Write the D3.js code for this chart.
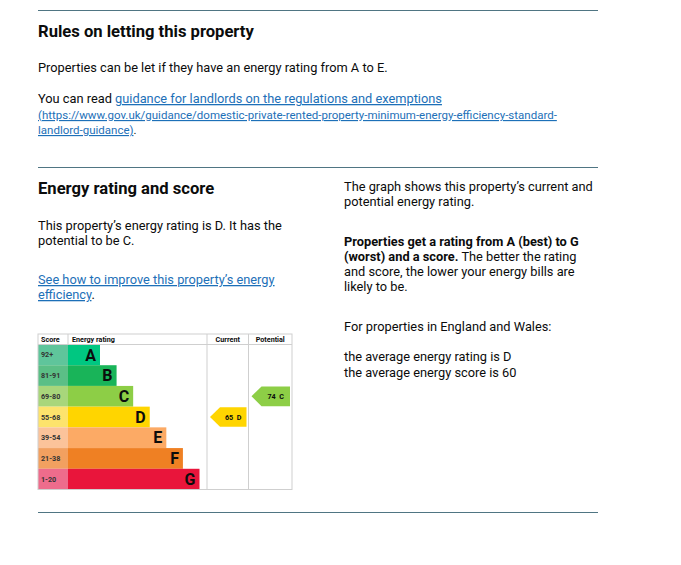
<!DOCTYPE html>
<html><head><meta charset="utf-8">
<script src="https://cdn.jsdelivr.net/npm/d3@7"></script>
<style>
html,body{margin:0;padding:0;background:#fff;}
svg text{font-family:Roboto,"Noto Sans",sans-serif;}
</style></head>
<body><svg id="c" width="681" height="565"></svg>
<script>
// ---- data ----
const bands = ["A","B","C","D","E","F","G"];
const scoreRanges = ["92+","81-91","69-80","55-68","39-54","21-38","1-20"];
const barLengths = [1,2,3,4,5,6,7];
const bandColors = ["#00c781","#19b459","#8dce46","#ffd500","#fcaa65","#ef8023","#e9153b"];
const cellColors = ["#5fc59b","#5bbf86","#a8d67b","#fde36c","#fbc39a","#f2a060","#ee6c8c"];
const columns = ["Current","Potential"];
const ratings = [{col:"Current",score:65,band:"D"},{col:"Potential",score:74,band:"C"}];

const svg = d3.select("#c");
const ink = "#0b0c0c", link = "#1d70b8", rule = "#4f7583";
const BODY = 12.8;

// ---- page rules ----
[10,167,512].forEach(yy=>svg.append("line").attr("x1",38).attr("x2",598).attr("y1",yy+0.5).attr("y2",yy+0.5).attr("stroke",rule).attr("stroke-width",1.2));

function txt(x,y,s,opt={}){
  const t=svg.append("text").attr("x",x).attr("y",y).attr("fill",opt.fill||ink)
    .attr("font-size",opt.size||BODY).attr("font-weight",opt.bold?"bold":"normal");
  if(opt.underline) t.attr("text-decoration","underline");
  t.text(s); return t;
}
function mixed(x,y,parts,size){
  const t=svg.append("text").attr("x",x).attr("y",y).attr("font-size",size||BODY);
  parts.forEach(p=>{const ts=t.append("tspan").text(p.t).attr("fill",p.link?link:ink);
    if(p.bold) ts.attr("font-weight","bold"); if(p.link) ts.attr("text-decoration","underline"); if(p.size) ts.attr("font-size",p.size);});
  return t;
}

txt(38,37,"Rules on letting this property",{bold:true,size:16.6});
txt(38,72,"Properties can be let if they have an energy rating from A to E.");
mixed(38,103,[{t:"You can read "},{t:"guidance for landlords on the regulations and exemptions",link:true}]);
txt(38,119,"(https://www.gov.uk/guidance/domestic-private-rented-property-minimum-energy-efficiency-standard-",{fill:link,size:11.5,underline:true});
mixed(38,134,[{t:"landlord-guidance)",link:true,size:11.5},{t:".",size:11.5}]);

txt(38,194,"Energy rating and score",{bold:true,size:16.6});
txt(38,230,"This property\u2019s energy rating is D. It has the");
txt(38,245,"potential to be C.");
mixed(38,284,[{t:"See how to improve this property\u2019s energy",link:true}]);
mixed(38,299,[{t:"efficiency",link:true},{t:"."}]);

txt(344,191,"The graph shows this property\u2019s current and");
txt(344,206,"potential energy rating.");
txt(344,246,"Properties get a rating from A (best) to G",{bold:true});
mixed(344,261,[{t:"(worst) and a score.",bold:true},{t:" The better the rating"}]);
txt(344,276,"and score, the lower your energy bills are");
txt(344,291,"likely to be.");
txt(344,331,"For properties in England and Wales:");
txt(344,361,"the average energy rating is D");
txt(344,377,"the average energy score is 60");

// ---- EPC chart ----
const cLeft=38, cRight=292, cTop=334, headH=10.5, cBottom=489.5;
const scoreW=30, barsEnd=207, curEnd=248.5;
const y = d3.scaleBand().domain(bands).range([cTop+headH,cBottom]).paddingInner(0);
const w = d3.scaleLinear().domain([1,7]).range([32,131.5]);
const x = d3.scaleOrdinal().domain(columns).range([barsEnd,curEnd]);
const colW = {Current:curEnd-barsEnd, Potential:cRight-curEnd};
const g = svg.append("g");

bands.forEach((b,i)=>{
  g.append("rect").attr("x",cLeft).attr("y",y(b)).attr("width",scoreW).attr("height",y.bandwidth()).attr("fill",cellColors[i]);
  g.append("rect").attr("x",cLeft+scoreW).attr("y",y(b)).attr("width",w(barLengths[i])).attr("height",y.bandwidth()).attr("fill",bandColors[i]);
  g.append("text").attr("x",cLeft+3).attr("y",y(b)+y.bandwidth()/2+2.5).attr("font-size",7.2).attr("font-weight","bold").attr("fill","#333").text(scoreRanges[i]);
  g.append("text").attr("x",cLeft+scoreW+w(barLengths[i])-4).attr("y",y(b)+y.bandwidth()/2+5.7).attr("text-anchor","end")
    .attr("font-size",16).attr("font-weight","bold").attr("fill",ink).text(b);
});

const gc="#cfcfcf";
g.append("rect").attr("x",cLeft).attr("y",cTop).attr("width",cRight-cLeft).attr("height",cBottom-cTop).attr("fill","none").attr("stroke",gc).attr("stroke-width",1);
g.append("line").attr("x1",cLeft).attr("x2",cRight).attr("y1",cTop+headH).attr("y2",cTop+headH).attr("stroke",gc);
[cLeft+scoreW,barsEnd,curEnd].forEach((xx,k)=>g.append("line").attr("x1",xx).attr("x2",xx).attr("y1",cTop).attr("y2",k===0?cTop+headH:cBottom).attr("stroke",gc));
g.append("text").attr("x",cLeft+3).attr("y",cTop+8).attr("font-size",7.2).attr("font-weight","bold").attr("fill",ink).text("Score");
g.append("text").attr("x",cLeft+scoreW+4).attr("y",cTop+8).attr("font-size",7.2).attr("font-weight","bold").attr("fill",ink).text("Energy rating");
columns.forEach(c=>g.append("text").attr("x",x(c)+colW[c]/2).attr("y",cTop+8).attr("text-anchor","middle").attr("font-size",7.2).attr("font-weight","bold").attr("fill",ink).text(c));

ratings.forEach(r=>{
  const i=bands.indexOf(r.band);
  const x0=x(r.col)+3, x1=x(r.col)+colW[r.col]-2, y0=y(r.band)+0.5, y1=y(r.band)+y.bandwidth()-0.5, tip=10;
  g.append("path").attr("d",`M${x0},${(y0+y1)/2}L${x0+tip},${y0}L${x1},${y0}L${x1},${y1}L${x0+tip},${y1}Z`).attr("fill",bandColors[i]);
  g.append("text").attr("x",(x0+tip+x1)/2).attr("y",(y0+y1)/2+2.5).attr("text-anchor","middle").attr("font-size",7.2).attr("font-weight","bold").attr("fill",ink).attr("xml:space","preserve").text(r.score+"  "+r.band);
});
</script></body></html>
